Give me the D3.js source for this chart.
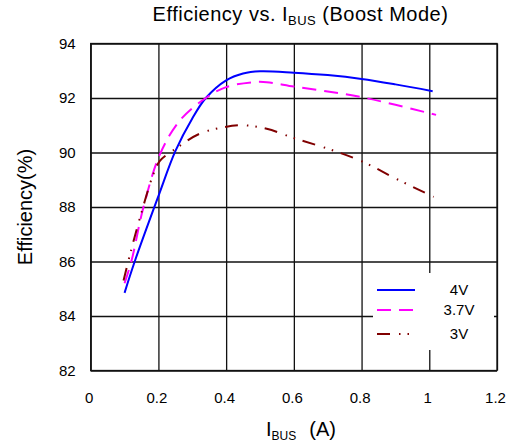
<!DOCTYPE html>
<html>
<head>
<meta charset="utf-8">
<script src="https://cdn.jsdelivr.net/npm/d3@7"></script>
<style>
  body { margin: 0; background: #fff; }
  text { font-family: "Liberation Sans", Arial, sans-serif; fill: #000; }
</style>
</head>
<body>
<script>
// values
const xTicks = [0, 0.2, 0.4, 0.6, 0.8, 1, 1.2];
const yTicks = [82, 84, 86, 88, 90, 92, 94];

const current4V = [0.10, 0.13, 0.20, 0.25, 0.30, 0.34, 0.40, 0.45, 0.50, 0.60, 0.70, 0.80, 0.90, 1.01];
const eff4V = [84.85, 86.0, 88.4, 90.05, 91.25, 92.0, 92.65, 92.9, 92.98, 92.93, 92.84, 92.7, 92.5, 92.25];

const current37V = [0.10, 0.12, 0.155, 0.205, 0.265, 0.34, 0.40, 0.48, 0.52, 0.60, 0.70, 0.80, 0.90, 1.02];
const eff37V = [85.2, 86.0, 87.95, 89.95, 91.2, 92.0, 92.4, 92.58, 92.58, 92.42, 92.24, 92.03, 91.75, 91.38];

const current3V = [0.097, 0.117, 0.15, 0.185, 0.205, 0.25, 0.32, 0.39, 0.45, 0.52, 0.60, 0.70, 0.80, 0.90, 1.013];
const eff3V = [85.3, 86.3, 87.8, 89.2, 89.7, 90.13, 90.68, 90.92, 91.0, 90.87, 90.53, 90.14, 89.68, 89.05, 88.37];

const seriesNames = ['4V', '3.7V', '3V'];
const seriesColors = ['#0000ff', '#ff00ff', '#800000'];
const seriesDash = [null, '14,8', '13,9,1.5,7,1.5,8'];

const series = [
  current4V.map((x, i) => ({ x, y: eff4V[i] })),
  current37V.map((x, i) => ({ x, y: eff37V[i] })),
  current3V.map((x, i) => ({ x, y: eff3V[i] }))
];

const margin = { top: 43.5, left: 90.7 };
const width = 406.3;
const height = 327;

const svg = d3.select('body')
  .append('svg')
  .attr('width', 508)
  .attr('height', 446);

const g = svg.append('g')
  .attr('transform', `translate(${margin.left},${margin.top})`);

const xScale = d3.scaleLinear().domain([0, 1.2]).range([0, width]);
const yScale = d3.scaleLinear().domain([82, 94]).range([height, 0]);

// grid + tick labels
const xAxis = g.append('g')
  .attr('transform', `translate(0,${height})`)
  .call(d3.axisBottom(xScale).tickValues(xTicks).tickSize(-height).tickPadding(22).tickFormat(d3.format('')));

const yAxis = g.append('g')
  .call(d3.axisLeft(yScale).tickValues(yTicks).tickSize(-width).tickPadding(15));

[xAxis, yAxis].forEach(a => {
  a.select('.domain').remove();
  a.selectAll('line').attr('stroke', '#111').attr('stroke-width', 1.3);
  a.selectAll('text')
    .style('font-family', '"Liberation Sans", Arial, sans-serif')
    .style('font-size', '15px')
    .attr('fill', '#000');
});
xAxis.selectAll('text').attr('dx', '-2');

g.append('rect')
  .attr('width', width)
  .attr('height', height)
  .attr('fill', 'none')
  .attr('stroke', '#111')
  .attr('stroke-width', 1.3);

// curves
const line = d3.line()
  .x(d => xScale(d.x))
  .y(d => yScale(d.y))
  .curve(d3.curveCatmullRom.alpha(0.5));

g.selectAll('.curve')
  .data(series)
  .enter()
  .append('path')
  .attr('class', 'curve')
  .attr('d', line)
  .attr('fill', 'none')
  .attr('stroke', (d, i) => seriesColors[i])
  .attr('stroke-width', 2)
  .attr('stroke-dasharray', (d, i) => seriesDash[i]);

// legend
const legend = svg.append('g')
  .attr('transform', 'translate(373,273)');

legend.append('rect')
  .attr('width', 121)
  .attr('height', 77)
  .attr('fill', '#fff');

const legendY = [17, 37, 61];

seriesNames.forEach((name, i) => {
  legend.append('line')
    .attr('x1', 4)
    .attr('x2', 42)
    .attr('y1', legendY[i])
    .attr('y2', legendY[i])
    .attr('stroke', seriesColors[i])
    .attr('stroke-width', 2)
    .attr('stroke-dasharray', seriesDash[i]);

  legend.append('text')
    .attr('x', 86)
    .attr('y', legendY[i] + 5)
    .attr('text-anchor', 'middle')
    .style('font-size', '15px')
    .text(name);
});

// title
const title = svg.append('text')
  .attr('x', 300.5)
  .attr('y', 20.5)
  .attr('text-anchor', 'middle')
  .style('font-size', '20px')
  .style('letter-spacing', '0.5px');
title.append('tspan').text('Efficiency vs. I');
title.append('tspan').attr('dy', 4).style('font-size', '13px').text('BUS');
title.append('tspan').attr('dy', -4).text(' (Boost Mode)');

// x label
const xLabel = svg.append('text')
  .attr('x', 301)
  .attr('y', 436)
  .attr('text-anchor', 'middle')
  .style('font-size', '20px');
xLabel.append('tspan').text('I');
xLabel.append('tspan').attr('dy', 4).style('font-size', '12px').text('BUS');
xLabel.append('tspan').attr('dy', -4).attr('dx', 13).text('(A)');

// y label
svg.append('text')
  .attr('transform', 'translate(32,207) rotate(-90)')
  .attr('text-anchor', 'middle')
  .style('font-size', '20px')
  .text('Efficiency(%)');
</script>
</body>
</html>
